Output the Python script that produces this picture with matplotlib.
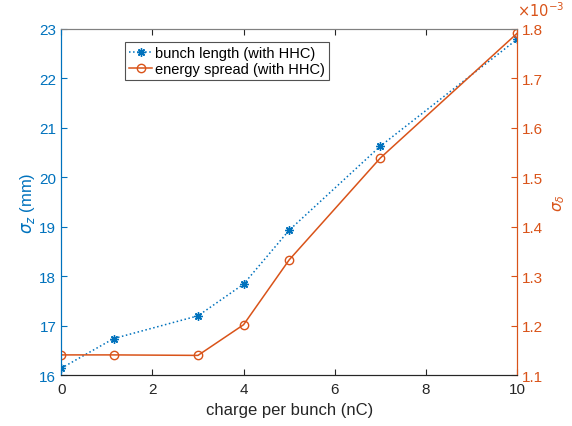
import matplotlib
matplotlib.use('Agg')
from matplotlib import pyplot as plt
import numpy as np

plt.rcParams['font.family'] = ['Liberation Sans', 'DejaVu Sans']
plt.rcParams['mathtext.fontset'] = 'dejavusans'

# data
charge = [0, 1.15, 3, 4, 5, 7, 10]
bunch_len = [16.14, 16.74, 17.2, 17.84, 18.93, 20.63, 22.79]
e_spread = [1.141, 1.141, 1.14, 1.202, 1.333, 1.539, 1.791]  # x1e-3

blue = '#0072BD'
orange = '#D95319'
gray = '#262626'

fig = plt.figure(figsize=(5.72, 4.27), dpi=100)
ax = fig.add_axes([0.107, 0.119, 0.797, 0.811])
ax2 = ax.twinx()

# asterisk marker like matlab's '*'
l1, = ax.plot(charge, bunch_len, ls=':', color=blue, marker=(8, 2, 0), ms=6,
              mew=1.0, lw=1.1, label='bunch length (with HHC)')
l2, = ax2.plot(charge, e_spread, ls='-', color=orange, marker='o', ms=6,
               mfc='none', lw=1.1, label='energy spread (with HHC)')

ax.set_xlim(0, 10)
ax.set_ylim(16, 23)
ax2.set_ylim(1.1, 1.8)
ax.set_xticks(np.arange(0, 11, 2))
ax.set_yticks(np.arange(16, 24, 1))
ax2.set_yticks(np.arange(1.1, 1.81, 0.1))
ax2.set_yticklabels(['%.1f' % v for v in np.arange(1.1, 1.81, 0.1)])

ax.tick_params(axis='x', direction='in', top=True, colors=gray, labelsize=11, length=4, pad=5)
ax.tick_params(axis='y', direction='in', colors=blue, labelsize=11, length=4)
ax2.tick_params(axis='y', direction='in', colors=orange, labelsize=11, length=4)

for a in (ax, ax2):
    a.spines['top'].set_color('#808080')
    a.spines['bottom'].set_color(gray)
    a.spines['left'].set_color(blue)
    a.spines['right'].set_color(orange)
    for s in a.spines.values():
        s.set_linewidth(0.8)

ax.set_xlabel('charge per bunch (nC)', fontsize=12, color=gray)
ax.set_ylabel(r'$\sigma_z$ (mm)', fontsize=12, color=blue, labelpad=2)
ax2.set_ylabel(r'$\sigma_\delta$', fontsize=11, color=orange, rotation=90, labelpad=6)
ax2.text(1.0, 1.03, r'$\times10^{-3}$', transform=ax2.transAxes, color=orange,
         fontsize=10.5, ha='left', va='bottom')

leg = ax.legend(handles=[l1, l2], loc='upper left', bbox_to_anchor=(0.141, 0.962),
                fontsize=10.5, frameon=True, fancybox=False, borderpad=0.25,
                handlelength=1.6, handletextpad=0.2, labelspacing=0.15,
                borderaxespad=0)
leg.get_frame().set_edgecolor(gray)
leg.get_frame().set_linewidth(0.8)

fig.savefig('out.png', dpi=100)
